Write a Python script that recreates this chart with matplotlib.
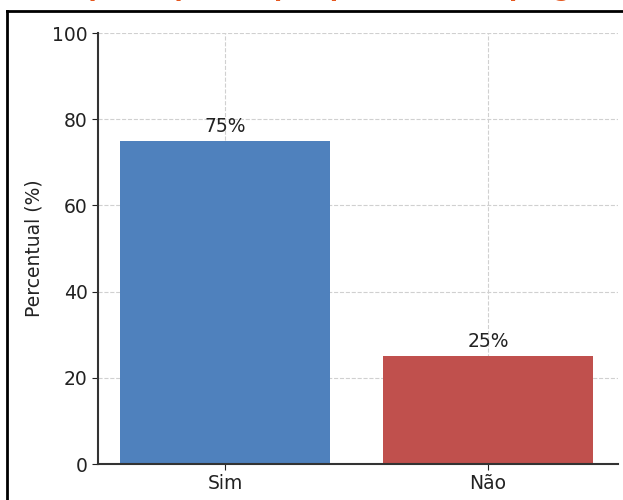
import matplotlib
matplotlib.use("Agg")
import matplotlib.pyplot as plt
from matplotlib.lines import Line2D

categories = ["Sim", "Não"]
values = [75, 25]
labels = ["75%", "25%"]
colors = ["#4F81BD", "#C0504D"]
yticks = [0, 20, 40, 60, 80, 100]
title = "Você participou de pesquisa sobre o programa?"

W, H = 623, 500
fig = plt.figure(figsize=(W/100, H/100), dpi=100)
ax = fig.add_axes([98/W, (H-464)/H, (618-98)/W, (464-33)/H])

x = list(range(len(categories)))
bars = ax.bar(x, values, width=0.8, color=colors, zorder=2)
for xi, v, lab in zip(x, values, labels):
    ax.text(xi, v + 1.2, lab, ha="center", va="bottom", fontsize=13.5, color="#222222")

ax.set_xlim(-0.483, 1.494)
ax.set_ylim(0, 100)
ax.set_yticks(yticks)
ax.set_xticks(x)
ax.set_xticklabels(categories)
ax.tick_params(labelsize=13.5, colors="#222222", length=4)
ax.set_ylabel("Percentual (%)", fontsize=13.5, color="#222222", labelpad=6)
ax.grid(True, linestyle="--", color="#d0d0d0", linewidth=0.8, zorder=0)
ax.set_axisbelow(True)
for s in ["top", "right"]:
    ax.spines[s].set_visible(False)
for s in ["left", "bottom"]:
    ax.spines[s].set_color("#333333")
    ax.spines[s].set_linewidth(1.5)

# outer frame (cropped screenshot border)
fig.add_artist(Line2D([7/W, 7/W], [0, 1-11/H], color="black", lw=2, transform=fig.transFigure))
fig.add_artist(Line2D([7/W, 1.0], [1-11/H, 1-11/H], color="black", lw=2, transform=fig.transFigure))

# title, mostly cut off at top (as in the reference screenshot)
fig.text(335/W, 1 + 3.8/H, title, ha="center", va="baseline", fontsize=17,
         fontweight="bold", color="#E5571E")

fig.savefig("out.png", dpi=100)
